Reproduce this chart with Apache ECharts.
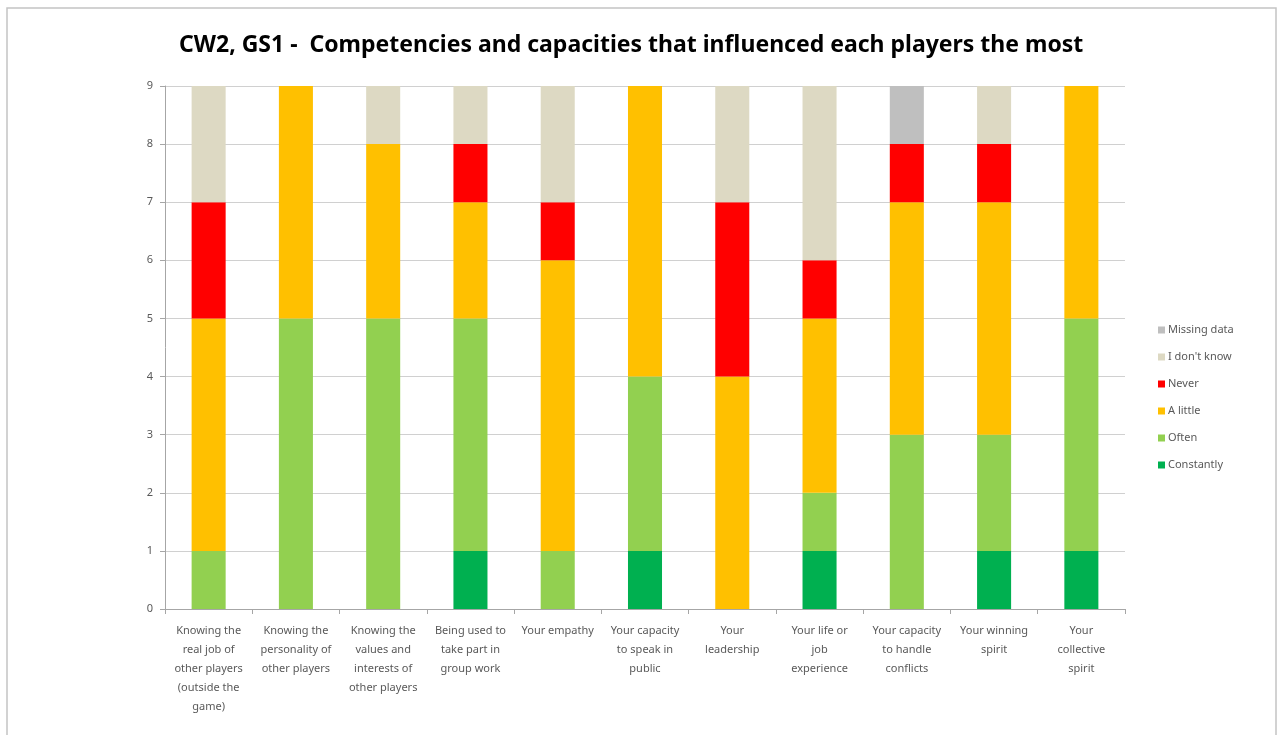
<!DOCTYPE html>
<html>
<head>
<meta charset="utf-8">
<title>CW2, GS1 - Competencies and capacities</title>
<script src="https://cdn.jsdelivr.net/npm/echarts@6/dist/echarts.min.js"></script>
<style>
  html, body { margin: 0; padding: 0; background: #fff; }
  #chart { width: 1280px; height: 735px; }
</style>
</head>
<body>
<div id="chart"></div>
<script>
const categories = [
  'Knowing the\nreal job of\nother players\n(outside the\ngame)',
  'Knowing the\npersonality of\nother players',
  'Knowing the\nvalues and\ninterests of\nother players',
  'Being used to\ntake part in\ngroup work',
  'Your empathy',
  'Your capacity\nto speak in\npublic',
  'Your\nleadership',
  'Your life or\njob\nexperience',
  'Your capacity\nto handle\nconflicts',
  'Your winning\nspirit',
  'Your\ncollective\nspirit'
]

// counts per answer, stacked bottom to top
const constantly = [0, 0, 0, 1, 0, 1, 0, 1, 0, 1, 1]
const often = [1, 5, 5, 4, 1, 3, 0, 1, 3, 2, 4]
const aLittle = [4, 4, 3, 2, 5, 5, 4, 3, 4, 4, 4]
const never = [2, 0, 0, 1, 1, 0, 3, 1, 1, 1, 0]
const dontKnow = [2, 0, 1, 1, 2, 0, 2, 3, 0, 1, 0]
const missingData = [0, 0, 0, 0, 0, 0, 0, 0, 1, 0, 0]

const seriesList = [
  { name: 'Constantly', data: constantly, color: '#00B050' },
  { name: 'Often', data: often, color: '#92D050' },
  { name: 'A little', data: aLittle, color: '#FFC000' },
  { name: 'Never', data: never, color: '#FF0000' },
  { name: "I don't know", data: dontKnow, color: '#DDD9C3' },
  { name: 'Missing data', data: missingData, color: '#BFBFBF' }
]

const font = "'Noto Sans', sans-serif"
const chart = echarts.init(document.getElementById('chart'))

const option = {
  animation: false,
  backgroundColor: '#fff',
  graphic: [{
    type: 'rect',
    shape: { x: 7, y: 8, width: 1269, height: 740 },
    style: { fill: 'none', stroke: '#c4c4c4', lineWidth: 1.5 },
    silent: true
  }],
  title: {
    text: 'CW2, GS1 -  Competencies and capacities that influenced each players the most',
    left: 174,
    top: 29,
    textStyle: { fontFamily: font, fontSize: 23, fontWeight: 'bold', color: '#000' }
  },
  legend: {
    orient: 'vertical',
    left: 1153,
    top: 318,
    icon: 'rect',
    itemWidth: 7,
    itemHeight: 7,
    itemGap: 13,
    data: seriesList.map(s => s.name).reverse(),
    textStyle: { fontFamily: font, fontSize: 11, lineHeight: 14, color: '#595959', padding: [0, 0, 0, -2] }
  },
  grid: { left: 165, right: 155, top: 86, bottom: 126, containLabel: false },
  xAxis: {
    type: 'category',
    data: categories,
    axisLine: { lineStyle: { color: '#a6a6a6' } },
    axisTick: { show: true, interval: 0, length: 5, lineStyle: { color: '#a6a6a6' } },
    axisLabel: {
      interval: 0,
      margin: 12,
      fontFamily: font,
      fontSize: 11,
      lineHeight: 19,
      color: '#595959'
    }
  },
  yAxis: {
    type: 'value',
    min: 0,
    max: 9,
    interval: 1,
    axisLine: { show: true, lineStyle: { color: '#a6a6a6' } },
    axisTick: { show: true, length: 5, lineStyle: { color: '#a6a6a6' } },
    splitLine: { lineStyle: { color: '#d0d0d0' } },
    axisLabel: { fontFamily: font, fontSize: 11, color: '#595959', margin: 12 }
  },
  series: seriesList.map(s => ({
    name: s.name,
    type: 'bar',
    stack: 'total',
    barWidth: '39%',
    data: s.data,
    itemStyle: { color: s.color }
  }))
}

chart.setOption(option)
</script>
</body>
</html>
